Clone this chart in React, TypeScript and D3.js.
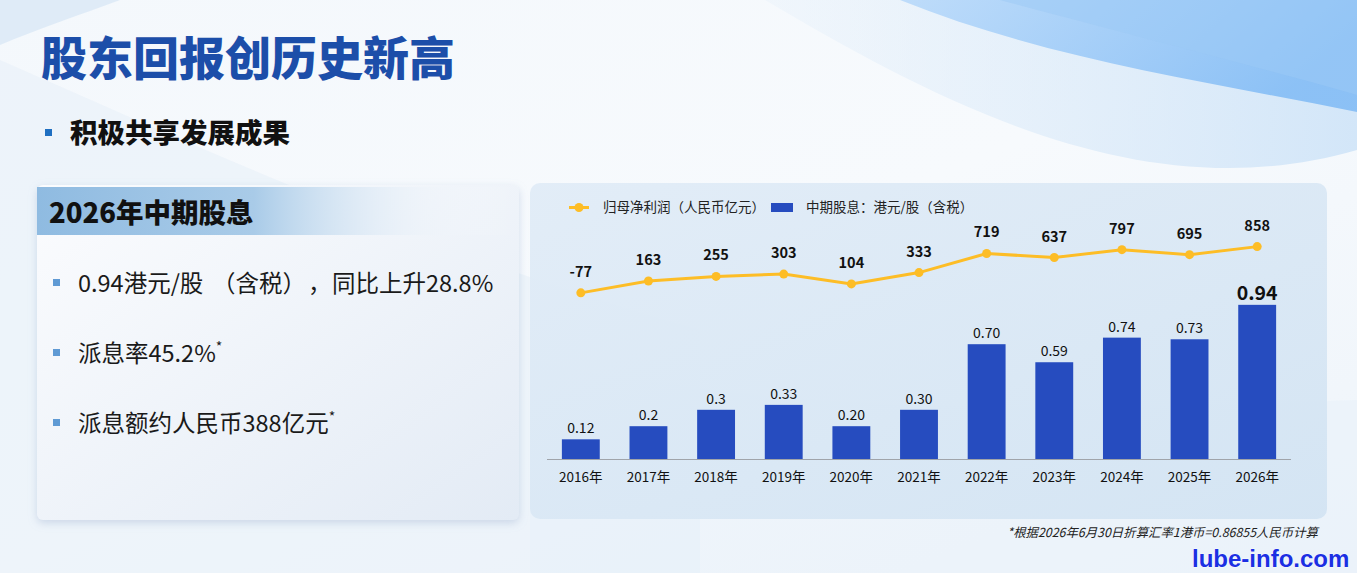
import React from "react";
import * as d3 from "d3";

const years = ["2016年","2017年","2018年","2019年","2020年","2021年","2022年","2023年","2024年","2025年","2026年"];
const profit = [-77,163,255,303,104,333,719,637,797,695,858];
const dividend = [0.12,0.2,0.3,0.33,0.2,0.3,0.7,0.59,0.74,0.73,0.94];
const dividendLabels = ["0.12","0.2","0.3","0.33","0.20","0.30","0.70","0.59","0.74","0.73","0.94"];
const bullet1Parts = ["0.94港元/股", "（含税）", "，", "同比上升28.8%"];
const bullet1Offsets = [0, 134, 230, 254];
const bullets = ["派息率45.2%","派息额约人民币388亿元"];

const W = 1357, H = 573;
const FONT = "'Noto Sans CJK SC', 'Noto Sans', sans-serif";

export default function App() {
  const x = d3.scaleBand<string>().domain(years).range([547, 1291]).paddingInner(0.44).paddingOuter(0.22);
  const yBar = d3.scaleLinear().domain([0, 1]).range([459, 295]);
  const yLine = d3.scaleLinear().domain([0, 1000]).range([289.05, 239.6]);
  const cx = (i: number) => (x(years[i]) as number) + x.bandwidth() / 2;
  const line = d3.line<number>().x((_, i) => cx(i)).y((d) => yLine(d));

  return (
    <svg width={W} height={H} style={{ position: "absolute", left: 0, top: 0, display: "block" }} fontFamily={FONT}>
      <defs>
        <linearGradient id="bg" x1="0" y1="0" x2="1" y2="1">
          <stop offset="0" stopColor="#f4f8fc" />
          <stop offset="0.5" stopColor="#f7fafd" />
          <stop offset="1" stopColor="#eef4fa" />
        </linearGradient>
        <linearGradient id="swoosh1" x1="0" y1="0" x2="1" y2="0">
          <stop offset="0" stopColor="#d9e9f8" stopOpacity="0.2" />
          <stop offset="1" stopColor="#cfe4f8" stopOpacity="0.9" />
        </linearGradient>
        <linearGradient id="swoosh2" x1="0" y1="0" x2="1" y2="0.3">
          <stop offset="0" stopColor="#b6d8fa" />
          <stop offset="1" stopColor="#7fbaf5" />
        </linearGradient>
        <linearGradient id="panelL" x1="0" y1="0" x2="1" y2="1">
          <stop offset="0" stopColor="#fbfcfe" />
          <stop offset="1" stopColor="#e3ebf5" />
        </linearGradient>
        <linearGradient id="hdr" x1="0" y1="0" x2="1" y2="0">
          <stop offset="0" stopColor="#8fbbe1" />
          <stop offset="0.45" stopColor="#a9cbe8" />
          <stop offset="0.8" stopColor="#e9f1f9" stopOpacity="0.3" />
          <stop offset="1" stopColor="#ffffff" stopOpacity="0" />
        </linearGradient>
        <linearGradient id="panelR" x1="0" y1="0" x2="1" y2="1">
          <stop offset="0" stopColor="#e1ecf7" />
          <stop offset="1" stopColor="#d3e4f3" />
        </linearGradient>
        <filter id="shadow" x="-10%" y="-10%" width="120%" height="130%">
          <feDropShadow dx="0" dy="3" stdDeviation="4" floodColor="#8aa3c8" floodOpacity="0.35" />
        </filter>
      </defs>

      {/* background */}
      <rect x={0} y={0} width={W} height={H} fill="url(#bg)" />
      <path d="M0,0 L120,0 C80,15 40,28 0,45 Z" fill="#d6e6f5" opacity={0.7} />
      <path d="M0,60 C250,170 450,260 700,330 L700,573 L0,573 Z" fill="#e8f0f8" opacity={0.6} />
      <path d="M765,0 C950,110 1150,210 1357,150 L1357,0 Z" fill="url(#swoosh1)" />
      <path d="M900,0 C1050,60 1200,80 1357,112 L1357,0 Z" fill="url(#swoosh2)" opacity={0.85} />
      <path d="M1000,0 C1150,40 1270,70 1357,95 L1357,0 Z" fill="#9ccaf6" opacity={0.5} />
      <path d="M530,360 C800,420 1100,410 1357,400 L1357,573 L530,573 Z" fill="#e6f0f9" opacity={0.4} />

      {/* Title */}
      <text x={41} y={75} fontSize={46} fontWeight={900} fill="#1c4ea9">股东回报创历史新高</text>
      <rect x={45} y={129} width={7} height={7} fill="#1f6fc1" />
      <text x={70} y={143} fontSize={27.5} fontWeight={900} fill="#111">积极共享发展成果</text>

      {/* Left panel */}
      <rect x={37} y={185} width={482} height={335} rx={6} fill="url(#panelL)" filter="url(#shadow)" />
      <rect x={37} y={187} width={482} height={48} fill="url(#hdr)" />
      <text x={49} y={223} fontSize={27.5} fontWeight={900} fill="#111">2026年中期股息</text>

      <rect x={53} y={279} width={7} height={7} fill="#5f9ad4" />
      <text y={292} fontSize={23.5} fill="#1a1a1a">
        {bullet1Parts.map((p, j) => (
          <tspan key={p} x={78 + bullet1Offsets[j]}>{p}</tspan>
        ))}
      </text>
      {bullets.map((b, i) => (
        <g key={b}>
          <rect x={53} y={349 + i * 70} width={7} height={7} fill="#5f9ad4" />
          <text x={78} y={362 + i * 70} fontSize={23.5} fill="#1a1a1a">
            {b}
            <tspan fontSize={14} dy={-10}>*</tspan>
          </text>
        </g>
      ))}

      {/* Chart panel */}
      <rect x={530} y={183} width={797} height={336} rx={10} fill="url(#panelR)" opacity={0.95} />

      {/* legend */}
      <line x1={569} x2={589} y1={207.5} y2={207.5} stroke="#fdbd26" strokeWidth={3} />
      <circle cx={579} cy={207.5} r={4.5} fill="#fdbd26" />
      <text x={603} y={212} fontSize={13.5} fill="#222">归母净利润（人民币亿元）</text>
      <rect x={771} y={203} width={22} height={9} fill="#264cbf" />
      <text x={806} y={212} fontSize={13.5} fill="#222">中期股息：港元/股（含税）</text>

      {/* bars */}
      {dividend.map((v, i) => (
        <g key={years[i]}>
          <rect x={x(years[i])} y={yBar(v)} width={x.bandwidth()} height={yBar(0) - yBar(v)} fill="#264cbf" />
          <text
            x={cx(i)}
            y={yBar(v) - (i === years.length - 1 ? 5 : 6)}
            textAnchor="middle"
            fontSize={i === years.length - 1 ? 19.5 : 14}
            fontWeight={i === years.length - 1 ? 700 : 400}
            fill="#111"
          >
            {dividendLabels[i]}
          </text>
          <text x={cx(i)} y={482} textAnchor="middle" fontSize={13.5} fill="#111">{years[i]}</text>
        </g>
      ))}
      <line x1={547} x2={1291} y1={459.5} y2={459.5} stroke="#a0a4aa" strokeWidth={1.2} />

      {/* line */}
      <path d={line(profit) || ""} fill="none" stroke="#fdbd26" strokeWidth={3} />
      {profit.map((v, i) => (
        <g key={"p" + i}>
          <circle cx={cx(i)} cy={yLine(v)} r={4.5} fill="#fdbd26" />
          <text x={cx(i)} y={yLine(v) - 16} textAnchor="middle" fontSize={14.5} fontWeight={700} fill="#111">{v}</text>
        </g>
      ))}

      {/* footnote */}
      <text x={1318} y={537} textAnchor="end" fontSize={12.4} fontStyle="italic" fill="#222">*根据2026年6月30日折算汇率1港币=0.86855人民币计算</text>

      {/* watermark */}
      <text x={1192} y={567} fontSize={24} fontWeight={700} fontFamily="'Liberation Sans', Arial, sans-serif" fill="#1b2fe3" stroke="#ffffff" strokeWidth={0.6} paintOrder="stroke">lube-info.com</text>
    </svg>
  );
}
